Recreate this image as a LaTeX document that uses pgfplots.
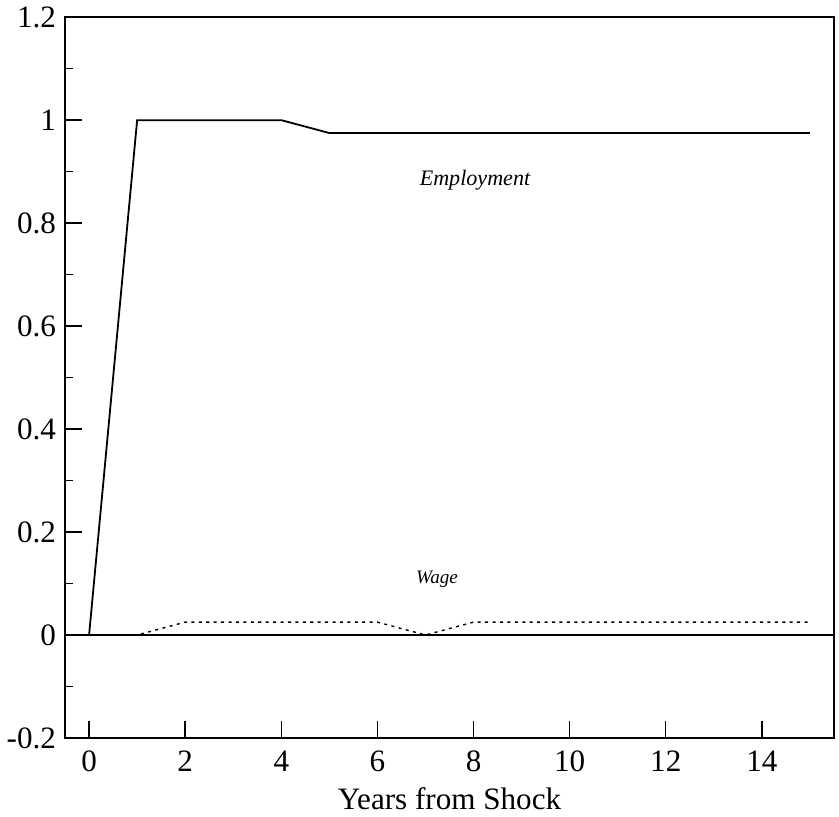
\documentclass[border=0pt]{standalone}
\usepackage{fontspec}
\setmainfont{Liberation Serif}
\usepackage{pgfplots}
\pgfplotsset{compat=1.18}
\begin{document}
\begin{tikzpicture}
\begin{axis}[
  name=main,
  scale only axis,
  width=383pt, height=359pt,
  xmin=-0.5, xmax=15.5,
  ymin=-0.2, ymax=1.2,
  xtick={0,2,4,6,8,10,12,14},
  ytick={-0.2,0,0.2,0.4,0.6,0.8,1,1.2},
  yticklabels={-0.2,0,0.2,0.4,0.6,0.8,1,1.2},
  minor ytick={-0.1,0.1,0.3,0.5,0.7,0.9,1.1},
  tick align=inside,
  xtick pos=bottom, ytick pos=left,
  major tick length=8.5pt,
  minor tick length=4pt,
  tick style={black, line width=0.7pt},
  axis line style={line width=0.8pt},
  /pgf/number format/assume math mode=true,
  ticklabel style={font=\fontsize{15.5}{18}\selectfont},
  yticklabel style={xshift=-1pt},
  xticklabel style={yshift=-3pt},
  xlabel={Years from Shock},
  xlabel style={font=\fontsize{15.5}{18}\selectfont, yshift=-1pt},
  clip=false,
]
\addplot[black, line width=0.8pt] coordinates {(-0.5,0) (15.5,0)};
\addplot[black, line width=0.9pt] coordinates {
(0,0) (1,1) (2,1) (3,1) (4,1) (5,0.975) (6,0.975) (7,0.975) (8,0.975)
(9,0.975) (10,0.975) (11,0.975) (12,0.975) (13,0.975) (14,0.975) (15,0.975)};
\addplot[black, line width=0.7pt, dash pattern=on 1.5pt off 2.2pt] coordinates {
(0,0) (1,0) (2,0.025) (3,0.025) (4,0.025) (5,0.025) (6,0.025) (7,0) (8,0.025)
(9,0.025) (10,0.025) (11,0.025) (12,0.025) (13,0.025) (14,0.025) (15,0.025)};
\node[font=\itshape\fontsize{11}{13}\selectfont] at (axis cs:8.03,0.883) {Employment};
\node[font=\itshape\fontsize{9.5}{11}\selectfont] at (axis cs:7.24,0.109) {Wage};
\end{axis}
\path (main.east) ++(2.5pt,0) coordinate (rpad);
\end{tikzpicture}
\end{document}
